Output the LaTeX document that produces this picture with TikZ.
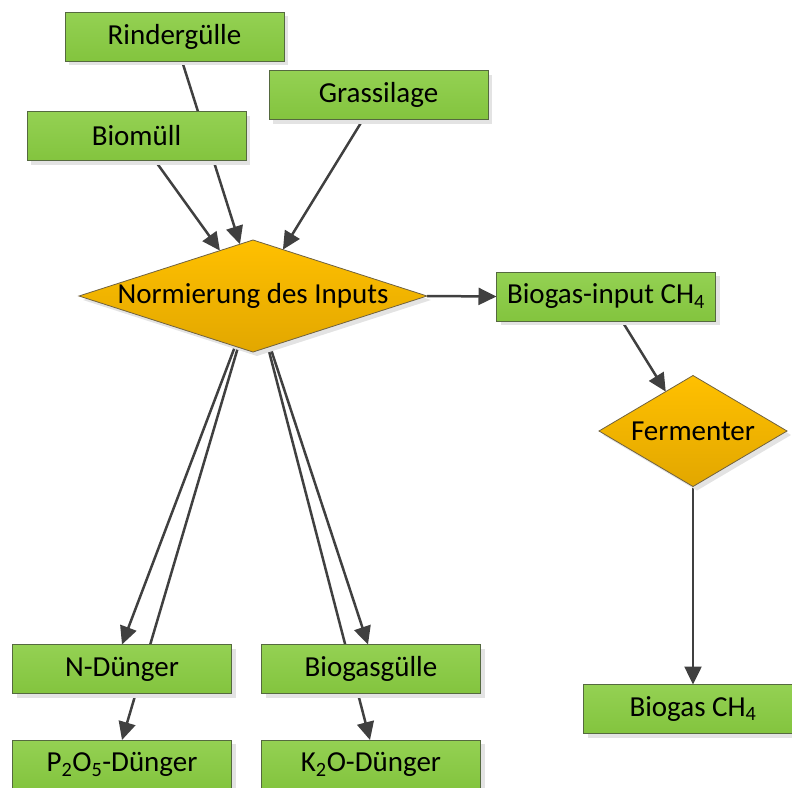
\documentclass[tikz,border=0pt]{standalone}
\usepackage{fontspec}
\setmainfont{Carlito}
\usetikzlibrary{shapes.geometric,arrows.meta,calc,shadows,backgrounds}

\definecolor{boxtop}{HTML}{94D153}
\definecolor{boxbot}{HTML}{83C43E}
\definecolor{boxline}{HTML}{55693F}
\definecolor{dmdtop}{HTML}{FFC000}
\definecolor{dmdbot}{HTML}{E2A700}
\definecolor{dmdline}{HTML}{6F6140}
\definecolor{flowgray}{HTML}{404040}

\tikzset{
  every node/.style={font=\fontsize{29}{34}\selectfont},
  softshadow/.style={drop shadow={shadow xshift=4pt, shadow yshift=-4pt, fill=black!11, opacity=1}},
  stepbox/.style={rectangle, draw=boxline, line width=0.9pt,
    top color=boxtop, bottom color=boxbot,
    minimum width=219pt, minimum height=49pt, inner sep=0pt, outer sep=0pt, softshadow},
  decision/.style={diamond, draw=dmdline, line width=0.8pt,
    top color=dmdtop, bottom color=dmdbot, aspect=3,
    inner sep=0pt, outer sep=0pt, softshadow},
  flow/.style={draw=flowgray, line width=2.5pt},
  arr/.style={flow, -{Triangle[length=18pt, width=17pt]}}
}

\begin{document}
\begin{tikzpicture}[x=1pt, y=-1pt]
  \useasboundingbox (0,0) rectangle (792,787);
  \clip (0,0) rectangle (792,787);

  % inputs
  \node[stepbox] (rind) at (174.5,36.5) {Rindergülle};
  \node[stepbox] (biom) at (136.5,136) {Biomüll};
  \node[stepbox] (gras) at (378.5,95) {Grassilage};

  % normalisation step
  \node[decision, minimum width=348pt, minimum height=112pt] (norm) at (253,296)
    {\makebox[0pt]{Normierung des Inputs}};

  % biogas branch
  \node[stepbox] (bin) at (606,296.5) {Biogas-input CH\textsubscript{4}};
  \node[decision, minimum width=188pt, minimum height=111pt] (ferm) at (693,431)
    {\makebox[0pt]{Fermenter}};
  \node[stepbox] (bch4) at (693,709) {Biogas CH\textsubscript{4}};

  % fertiliser outputs
  \node[stepbox] (ndung) at (122,669) {N-Dünger};
  \node[stepbox] (p2o5) at (122,764.5) {P\textsubscript{2}O\textsubscript{5}-Dünger};
  \node[stepbox] (bgg) at (371,669) {Biogasgülle};
  \node[stepbox] (k2o) at (371,764.5) {K\textsubscript{2}O-Dünger};

  % connectors
  \begin{scope}[on background layer]
    \draw[arr] ($(rind.south)+(7.5,0)$) -- ($(norm.north)!0.075!(norm.west)$);
    \draw[arr] ($(biom.south)+(18.5,0)$) -- ($(norm.north)!0.19!(norm.west)$);
    \draw[arr] ($(gras.south)+(-15.5,0)$) -- ($(norm.north)!0.172!(norm.east)$);
    \draw[arr] (norm.east) -- (bin.west);
    \draw[arr] ($(bin.south)+(16,0)$) -- ($(ferm.north)!0.29!(ferm.west)$);
    \draw[arr] (ferm.south) -- (bch4.north);
    \draw[arr] ($(norm.south)!0.103!(norm.west)$) -- (ndung.north);
    \draw[arr] ($(norm.south)!0.086!(norm.west)$) -- (p2o5.north);
    \draw[arr] ($(norm.south)!0.098!(norm.east)$) -- ($(bgg.north)+(-3,0)$);
    \draw[arr] ($(norm.south)!0.086!(norm.east)$) -- ($(k2o.north)+(-1,0)$);
  \end{scope}
\end{tikzpicture}
\end{document}
